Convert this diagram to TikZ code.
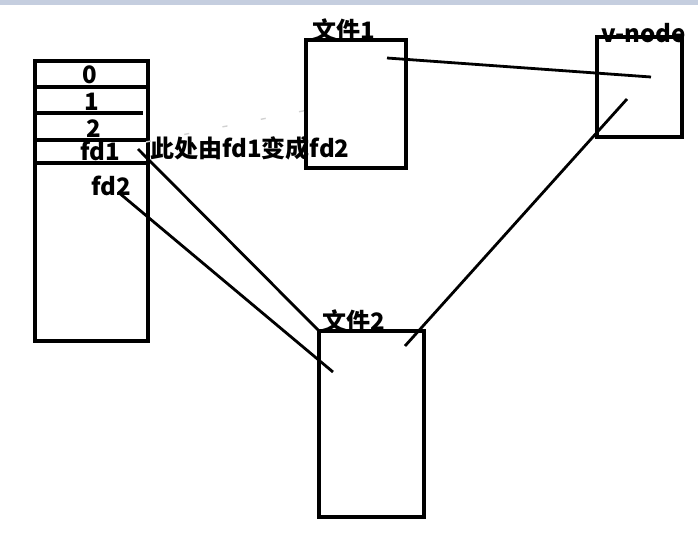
\documentclass[tikz,border=0pt]{standalone}
\usepackage{fontspec}
\setmainfont{Noto Sans CJK SC}
\begin{document}
\begin{tikzpicture}[x=1pt,y=-1pt,
  box/.style={draw, line width=3.2pt, inner sep=0pt, outer sep=0pt},
  rowline/.style={line width=3.2pt},
  link/.style={line width=2.8pt},
  lbl/.style={font=\fontsize{24}{24}\selectfont\bfseries, inner sep=0pt},
  faint/.style={draw=black!18, line width=1.4pt, dash pattern=on 5pt off 34pt}]
\useasboundingbox (0,0) rectangle (698,556);
\fill[fill={rgb,255:red,197;green,206;blue,223}] (0,0) rectangle (698,5);
% table
\node[box, minimum width=113pt, minimum height=280pt] (tab) at (91.5,201) {};
\draw[rowline] (35,87) -- (148,87);
\draw[rowline] (35,113) -- (143,113);
\draw[rowline] (35,140) -- (148,140);
\draw[rowline] (35,163) -- (148,163);
\node[lbl] (d0) at (90,75) {0};
\node[lbl] (d1) at (92,102) {1};
\node[lbl] (d2) at (94,129) {2};
\node[lbl] (fdone) at (100,151) {fd1};
\node[lbl] (fdtwo) at (111,186) {fd2};
\node[lbl, anchor=west] (note) at (150,148) {此处由fd1变成fd2};
% file boxes
\node[box, minimum width=100pt, minimum height=128pt] (f1) at (356,104) {};
\node[lbl, anchor=south west] (f1l) at (312,42) {文件1};
\node[box, minimum width=85pt, minimum height=100pt] (vn) at (639.5,87) {};
\node[lbl, anchor=south west] (vnl) at (601,43) {v-node};
\node[box, minimum width=105pt, minimum height=186pt] (f2) at (371.5,424) {};
\node[lbl, anchor=south west] (f2l) at (322,333) {文件2};
% connector ends
\coordinate (a1) at (387,58);
\coordinate (a2) at (651,77);
\coordinate (b1) at (627,99);
\coordinate (b2) at (405,346);
\coordinate (c1) at (138,149);
\coordinate (c2) at (321,333);
\coordinate (e1) at (118,192);
\coordinate (e2) at (333,372);
\coordinate (g1) at (146,142);
\coordinate (g2) at (318,108);
\draw[link] (a1) -- (a2);
\draw[link] (b1) -- (b2);
\draw[link] (c1) -- (c2);
\draw[link] (e1) -- (e2);
\draw[faint] (g1) -- (g2);
\end{tikzpicture}
\end{document}
